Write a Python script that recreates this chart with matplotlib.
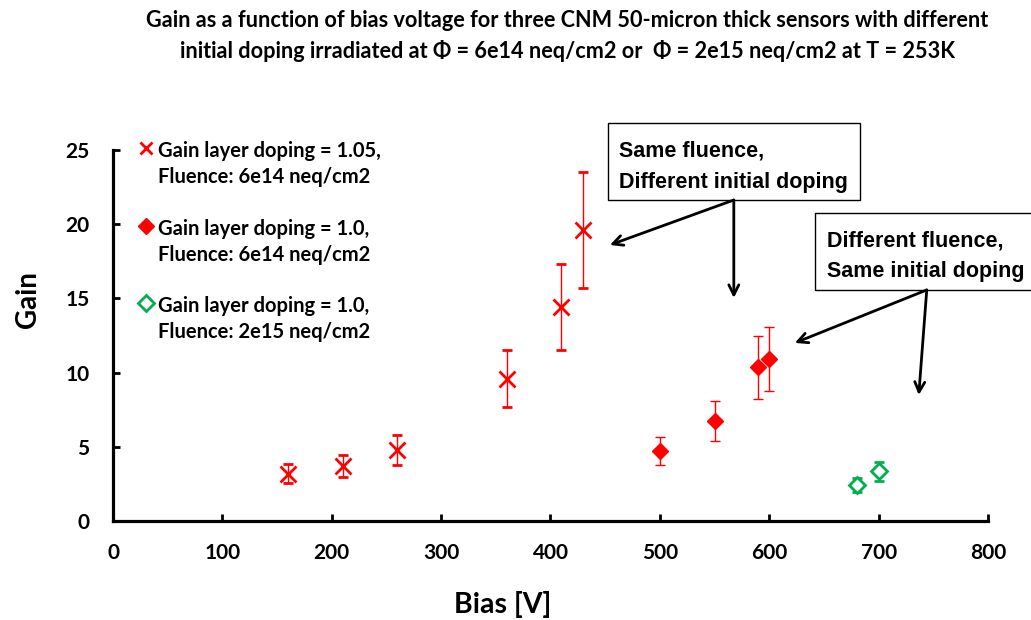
import matplotlib
matplotlib.use("Agg")
import matplotlib.pyplot as plt
from matplotlib.patches import Rectangle

# Data
bias_105 = [160, 210, 260, 360, 410, 430]
gain_105 = [3.2, 3.7, 4.8, 9.6, 14.4, 19.6]
err_105 = [0.65, 0.75, 1.0, 1.9, 2.9, 3.9]

bias_10 = [500, 550, 590, 600]
gain_10 = [4.7, 6.75, 10.35, 10.9]
err_10 = [0.95, 1.35, 2.1, 2.15]

bias_10b = [680, 700]
gain_10b = [2.45, 3.35]
err_10b = [0.48, 0.65]

labels = ["Gain layer doping = 1.05,\nFluence: 6e14 neq/cm2",
          "Gain layer doping = 1.0,\nFluence: 6e14 neq/cm2",
          "Gain layer doping = 1.0,\nFluence: 2e15 neq/cm2"]

title = ("Gain as a function of bias voltage for three CNM 50-micron thick sensors with different\n"
         "initial doping irradiated at \u03a6 = 6e14 neq/cm2 or  \u03a6 = 2e15 neq/cm2 at T = 253K")

RED = "#FF0000"
GREEN = "#00B050"
CAL = "Lato"
ARI = "Liberation Sans"
W, H = 1031, 620

fig = plt.figure(figsize=(W/100, H/100), dpi=100)
ax = fig.add_axes([113/W, 1-521/H, (988-113)/W, (521-150)/H])

styles = [dict(fmt='x', color=RED, ms=11, mew=2),
          dict(fmt='D', color=RED, ms=8, mew=1),
          dict(fmt='D', color=GREEN, mfc='white', ms=8, mew=2)]
series = [(bias_105, gain_105, err_105), (bias_10, gain_10, err_10), (bias_10b, gain_10b, err_10b)]
for (xs, ys, es), st in zip(series, styles):
    ax.errorbar(xs, ys, yerr=es, elinewidth=1, capsize=3.5, capthick=1, **st)

ax.set_xlim(0, 800)
ax.set_ylim(0, 25)
ax.set_xticks(range(0, 801, 100))
ax.set_yticks(range(0, 26, 5))
for s in ['top', 'right']:
    ax.spines[s].set_visible(False)
for s in ['left', 'bottom']:
    ax.spines[s].set_linewidth(2.3)
ax.tick_params(direction='in', length=5, width=2, labelsize=15)
ax.tick_params(axis='y', pad=17)
ax.tick_params(axis='x', pad=16)
for lab in ax.get_xticklabels() + ax.get_yticklabels():
    lab.set_fontfamily(CAL)
    lab.set_fontweight('bold')

fig.text(503/W, 1-604/H, "Bias [V]", ha='center', va='center', fontsize=20.5,
         fontfamily=CAL, fontweight='bold')
fig.text(28/W, 1-300/H, "Gain", ha='center', va='center', fontsize=20,
         fontfamily=CAL, fontweight='bold', rotation=90)
fig.text(567/W, 1-36/H, title, ha='center', va='center', fontsize=15.6,
         fontfamily=CAL, fontweight='bold', linespacing=1.5)

# manual legend (marker aligned with first text line)
leg_y = [148, 226, 303]
for lab, st, yy in zip(labels, styles, leg_y):
    mk = dict(st)
    fmt = mk.pop('fmt')
    fig.lines.append(plt.Line2D([146/W], [1-yy/H], marker=fmt, linestyle='none',
                                transform=fig.transFigure, figure=fig,
                                color=mk['color'], mfc=mk.get('mfc', mk['color']),
                                ms=mk['ms'] * (0.85 if fmt == 'x' else 1.0), mew=mk['mew']))
    fig.text(158/W, 1-(yy-7)/H, lab, ha='left', va='top', fontsize=14.5,
             fontfamily=CAL, fontweight='bold', linespacing=1.4)

# annotation boxes
def box(x0, x1, y0, y1):
    ax.add_patch(Rectangle((x0, y0), x1 - x0, y1 - y0, fill=False, ec='black', lw=1,
                           clip_on=False))

tkw = dict(fontfamily=ARI, fontweight='bold', fontsize=15.5, va='center', ha='left', clip_on=False)
box(452.5, 682.8, 21.63, 26.8)
ax.text(463, 24.95, "Same fluence,", **tkw)
ax.text(463, 22.8, "Different initial doping", **tkw)
box(641.7, 870, 15.57, 20.75)
ax.text(652.5, 18.9, "Different fluence,", **tkw)
ax.text(652.5, 16.8, "Same initial doping", **tkw)

arrow = dict(arrowstyle='->', lw=2, color='black', mutation_scale=18, shrinkA=0, shrinkB=0)
ax.annotate("", xy=(454.3, 18.6), xytext=(567.6, 21.63), arrowprops=arrow, annotation_clip=False)
ax.annotate("", xy=(567.6, 15.03), xytext=(567.6, 21.63), arrowprops=arrow, annotation_clip=False)
ax.annotate("", xy=(623.4, 12.0), xytext=(744, 15.57), arrowprops=arrow, annotation_clip=False)
ax.annotate("", xy=(736.7, 8.49), xytext=(744, 15.57), arrowprops=arrow, annotation_clip=False)

fig.savefig("out.png", dpi=100)
